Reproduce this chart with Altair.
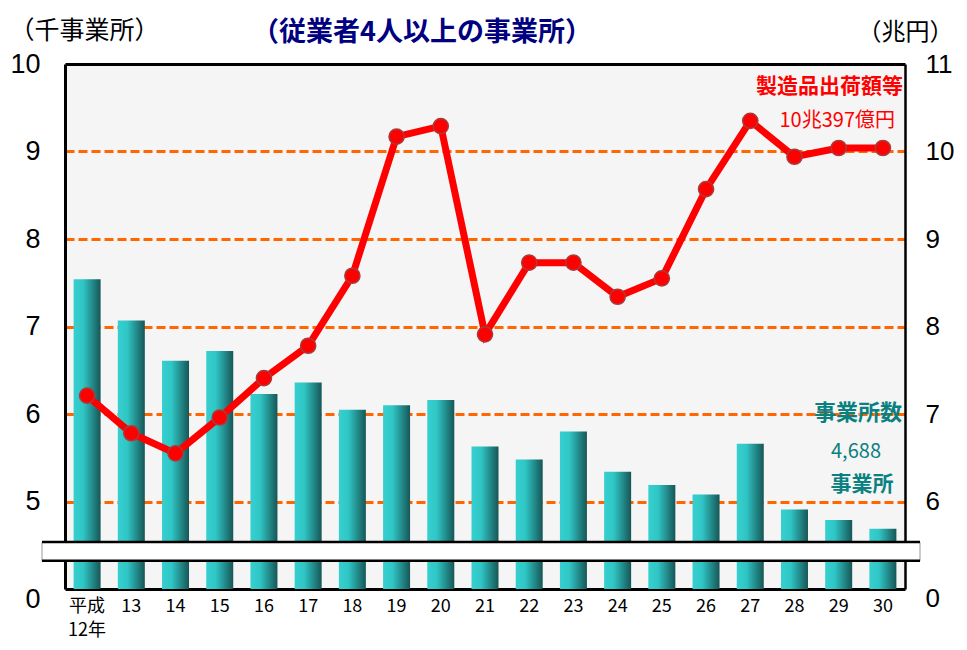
import altair as alt
import pandas as pd

# ---- data ----
years = ["平成12年", "13", "14", "15", "16", "17", "18", "19", "20", "21",
         "22", "23", "24", "25", "26", "27", "28", "29", "30"]
establishments = [7.54, 7.07, 6.61, 6.72, 6.23, 6.36, 6.05, 6.10, 6.16, 5.63,
                  5.48, 5.80, 5.34, 5.19, 5.08, 5.66, 4.91, 4.79, 4.688]
shipments = [7.21, 6.78, 6.55, 6.96, 7.41, 7.78, 8.58, 10.17, 10.29, 7.91,
             8.73, 8.73, 8.34, 8.55, 9.57, 10.35, 9.94, 10.04, 10.04]
left_ticks = [4, 5, 6, 7, 8, 9, 10]
right_ticks = [5, 6, 7, 8, 9, 10, 11]
left_domain = [4, 10]
right_domain = [5, 11]
break_edges = [4.536, 4.322]

df = pd.DataFrame({"year": years, "est": establishments, "ship": shipments})

RED = "#FF0000"
TEAL = "#0A8080"
JP = "Noto Sans CJK JP"
NUM = "Liberation Sans"

xenc = alt.X("year:N", sort=years,
             scale=alt.Scale(paddingInner=0, paddingOuter=0),
             axis=alt.Axis(title=None, labelAngle=0, ticks=False, tickSize=0,
                           domain=True, domainColor="black", domainWidth=3,
                           labelFont=JP, labelFontSize=18, labelColor="black",
                           labelPadding=8, labelLineHeight=24, labelBaseline="top",
                           labelExpr="datum.value == '平成12年' ? ['平成', '12年'] : datum.value"))

grad = alt.Gradient(gradient="linear", x1=0, x2=1, y1=0, y2=0,
                    stops=[alt.GradientStop(color="#36CFCF", offset=0),
                           alt.GradientStop(color="#30C6C6", offset=0.35),
                           alt.GradientStop(color="#175656", offset=1)])

bars = alt.Chart(df).mark_bar(size=27, color=grad).encode(
    x=xenc,
    y=alt.Y("est:Q", scale=alt.Scale(domain=left_domain, zero=False, nice=False),
            axis=alt.Axis(values=left_ticks,
                          labelExpr="datum.value == 4 ? '0' : datum.value",
                          ticks=False, tickSize=0, domain=True, domainColor="black",
                          domainWidth=3, labelFont=NUM, labelFontSize=27,
                          labelColor="black", labelPadding=25,
                          labelOffset={"condition": {"test": "datum.value == 4", "value": 10}, "value": 0},
                          grid=True, gridWidth=3,
                          gridColor={"condition": {"test": "datum.value == 10", "value": "black"}, "value": "#FF6600"},
                          gridDash={"condition": {"test": "datum.value == 10", "value": []}, "value": [9, 4]},
                          gridOpacity={"condition": {"test": "datum.value == 4", "value": 0}, "value": 1},
                          title="（千事業所）", titleAngle=0, titleAlign="left",
                          titleBaseline="middle", titleX=-56, titleY=-34,
                          titleFont=JP, titleFontSize=25, titleFontWeight="normal",
                          titleColor="black")),
    y2=alt.datum(left_domain[0]),
)

band = alt.Chart(pd.DataFrame({"top": [break_edges[0]], "bot": [break_edges[1]]})).mark_rect(
    fill="white", stroke="#999999", strokeWidth=1
).encode(
    x=alt.value(-23), x2=alt.value(855),
    y=alt.Y("top:Q", scale=alt.Scale(domain=left_domain, zero=False, nice=False), axis=None),
    y2="bot:Q",
)

edges = alt.Chart(pd.DataFrame({"e": break_edges})).mark_rule(color="black", strokeWidth=2.5).encode(
    x=alt.value(-23), x2=alt.value(855),
    y=alt.Y("e:Q", scale=alt.Scale(domain=left_domain, zero=False, nice=False), axis=None),
)

line = alt.Chart(df).mark_line(color=RED, strokeWidth=7).encode(
    x=xenc,
    y=alt.Y("ship:Q", scale=alt.Scale(domain=right_domain, zero=False, nice=False),
            axis=alt.Axis(orient="right", values=right_ticks,
                          labelExpr="datum.value == 5 ? '0' : datum.value",
                          ticks=False, tickSize=0, domain=True, domainColor="black",
                          domainWidth=2.5, labelFont=NUM, labelFontSize=26,
                          labelColor="black", labelPadding=20,
                          labelOffset={"condition": {"test": "datum.value == 5", "value": 9}, "value": 0},
                          grid=False,
                          title="（兆円）", titleAngle=0, titleAlign="left",
                          titleBaseline="middle", titleX=-48, titleY=-32,
                          titleFont=JP, titleFontSize=24, titleFontWeight="normal",
                          titleColor="black")),
)

points = alt.Chart(df).mark_circle(size=230, color=RED, opacity=1,
                                   stroke="#A83C3C", strokeWidth=1.5).encode(
    x=xenc,
    y=alt.Y("ship:Q", scale=alt.Scale(domain=right_domain, zero=False, nice=False), axis=None),
)


def label(text, x, y, size, color, weight="normal", align="center", font=JP):
    return alt.Chart(pd.DataFrame({"t": [text]})).mark_text(
        font=font, fontSize=size, fontWeight=weight, color=color,
        align=align, baseline="middle"
    ).encode(x=alt.value(x), y=alt.value(y), text="t:N")


texts = [
    label("（従業者4人以上の事業所）", 357, -31, 27, "#000080", "bold"),
    label("製造品出荷額等", 838, 23, 21, RED, "bold", "right"),
    label("10兆397億円", 830, 57, 20, RED, "normal", "right"),
    label("事業所数", 837, 349, 22, TEAL, "bold", "right"),
    label("4,688", 791, 388, 20, TEAL, "normal"),
    label("事業所", 797, 421, 21, TEAL, "bold"),
]

chart = alt.layer(bars, band, edges, line, points, *texts).resolve_scale(
    y="independent"
).properties(
    width=840, height=525,
    padding={"left": 57, "top": 56, "right": 54, "bottom": 53},
    autosize=alt.AutoSizeParams(type="none"),
    background="white",
).configure_view(fill="#F5F5F5", stroke=None)

chart.save("out.html", embed_options={"renderer": "svg", "actions": False})
